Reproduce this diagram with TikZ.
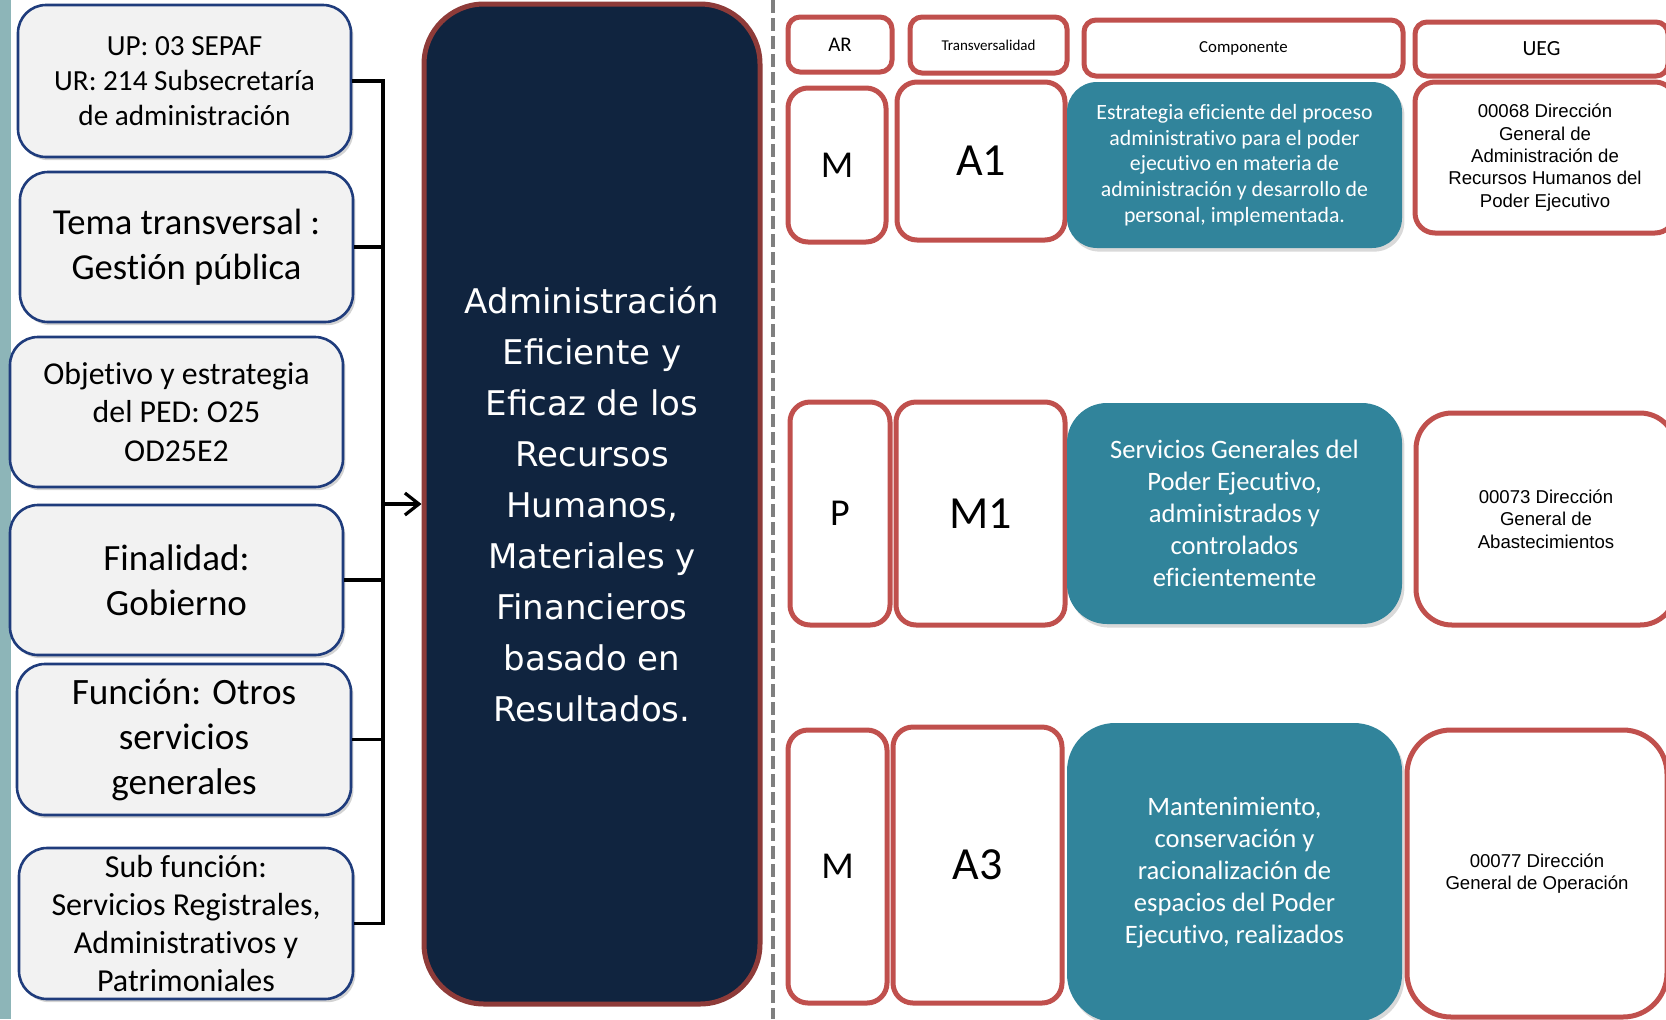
\documentclass[tikz,border=0pt]{standalone}
\usepackage{fontspec}
\setmainfont{Carlito}[Ligatures={NoCommon}]
\newfontfamily\dejavu{DejaVu Sans}
\newfontfamily\arialf{Liberation Sans}
\usetikzlibrary{shadows,arrows.meta}
\definecolor{stripc}{HTML}{8DB5B8}
\definecolor{lfill}{HTML}{F2F2F2}
\definecolor{lborder}{HTML}{1F3C7C}
\definecolor{navyc}{HTML}{10243F}
\definecolor{brownred}{HTML}{8E3B39}
\definecolor{redb}{HTML}{C0504D}
\definecolor{tealc}{HTML}{31849B}
\definecolor{dashc}{HTML}{7F7F7F}
\newcommand\fs[2]{\fontsize{#1}{#2}\selectfont}
\begin{document}
\begin{tikzpicture}[x=0.5pt,y=-0.5pt,
  lbox/.style={draw=lborder, line width=1.3pt, fill=lfill, rounded corners=14pt, align=center, inner sep=0pt,
    drop shadow={shadow xshift=1.2pt, shadow yshift=-1.6pt, opacity=0.35}},
  cbox/.style={draw=brownred, line width=2.5pt, fill=navyc, rounded corners=30pt, align=center, inner sep=0pt, text=white},
  hbox/.style={draw=redb, line width=2.5pt, fill=white, rounded corners=6pt, align=center, inner sep=0pt},
  rbox/.style={draw=redb, line width=2.5pt, fill=white, rounded corners=10pt, align=center, inner sep=0pt},
  tbox/.style={fill=tealc, rounded corners=15pt, align=center, inner sep=0pt, text=white,
    drop shadow={shadow xshift=1.2pt, shadow yshift=-1.8pt, opacity=0.3}},
  conn/.style={draw=black, line width=1.8pt},
  sepline/.style={draw=dashc, line width=2pt, dash pattern=on 6.5pt off 2.5pt}
]
\useasboundingbox (0,0) rectangle (1666,1019);
\fill[stripc] (0,0) rectangle (11,1019);

% left column
\node[lbox, minimum width=166.5pt, minimum height=76pt, font=\fs{14.6}{17.5}] (b1) at (184.5,81) {UP: 03 SEPAF\\UR: 214 Subsecretaría\\de administración};
\node[lbox, minimum width=166.5pt, minimum height=75pt, font=\fs{18.3}{22.3}] (b2) at (186.5,247) {Tema transversal :\\Gestión pública};
\node[lbox, minimum width=166.5pt, minimum height=75pt, font=\fs{15.9}{19.1}] (b3) at (176.5,412) {Objetivo y estrategia\\del PED: O25\\OD25E2};
\node[lbox, minimum width=166.5pt, minimum height=75pt, font=\fs{18.5}{22.3}] (b4) at (176.5,580) {Finalidad:\\Gobierno};
\node[lbox, minimum width=167pt, minimum height=75.5pt, font=\fs{18.6}{22.5}] (b5) at (184,739.5) {Función: Otros\\servicios\\generales};
\node[lbox, minimum width=167pt, minimum height=75.5pt, font=\fs{16}{19.1}] (b6) at (186,923.5) {Sub función:\\Servicios Registrales,\\Administrativos y\\Patrimoniales};

% central box
\node[cbox, minimum width=168pt, minimum height=500pt, font=\dejavu\fs{17}{25.5}] (c) at (592,504) {Administración\\Eficiente y\\Eficaz de los\\Recursos\\Humanos,\\Materiales y\\Financieros\\basado en\\Resultados.};

% connectors
\coordinate (bt) at (383,80);
\draw[conn] (b1.east) -- (b1.east -| bt) -- (b6.east -| bt) -- (b6.east);
\draw[conn] (b2.east) -- (b2.east -| bt);
\draw[conn] (b4.east) -- (b4.east -| bt);
\draw[conn] (b5.east) -- (b5.east -| bt);
\draw[conn, -{Straight Barb[length=7pt, width=11pt, line width=1.6pt]}] (c.west -| bt) -- (c.west);

% separator
\coordinate (s1) at (773,0);
\coordinate (s2) at (773,1019);
\draw[sepline] (s1) -- (s2);

% headers
\node[hbox, minimum width=52pt, minimum height=27.5pt, font=\fs{10.4}{12}] (hAR) at (840,44.5) {AR};
\node[hbox, minimum width=78.5pt, minimum height=28pt, font=\fs{7.5}{9}] (hTR) at (988.5,45) {Transversalidad};
\node[hbox, minimum width=159.5pt, minimum height=28pt, font=\fs{8.4}{10}] (hCO) at (1243.5,48) {Componente};
\node[hbox, minimum width=126.5pt, minimum height=27pt, font=\fs{10.8}{12}] (hUE) at (1541.5,49) {UEG};

% row 1
\node[rbox, minimum width=49pt, minimum height=77pt, font=\fs{19}{22}] (r1a) at (837,165) {M};
\node[rbox, minimum width=84pt, minimum height=79pt, font=\fs{23}{26}] (r1t) at (981,161) {A1};
\node[tbox, minimum width=167.5pt, minimum height=83pt, font=\fs{10.9}{12.9}] (r1c) at (1234.5,165) {Estrategia eficiente del proceso\\administrativo para el poder\\ejecutivo en materia de\\administración y desarrollo de\\personal, implementada.};
\node[rbox, minimum width=130pt, minimum height=75.5pt, font=\arialf\fs{9.3}{11.2}] (r1u) at (1545,157.5) {00068 Dirección\\General de\\Administración de\\Recursos Humanos del\\Poder Ejecutivo};

% row 2
\node[rbox, minimum width=50pt, minimum height=111.5pt, font=\fs{19}{22}] (r2a) at (840,513.5) {P};
\node[rbox, minimum width=84.5pt, minimum height=111.5pt, font=\fs{23}{26}] (r2t) at (980.5,513.5) {M1};
\node[tbox, rounded corners=20pt, minimum width=167.5pt, minimum height=110.5pt, font=\fs{13.3}{16}] (r2c) at (1234.5,513.5) {Servicios Generales del\\Poder Ejecutivo,\\administrados y\\controlados\\eficientemente};
\node[rbox, rounded corners=18pt, minimum width=130pt, minimum height=106pt, font=\arialf\fs{9.3}{11.2}] (r2u) at (1546,519) {00073 Dirección\\General de\\Abastecimientos};

% row 3
\node[rbox, minimum width=49.5pt, minimum height=136.5pt, font=\fs{19}{22}] (r3a) at (837.5,866.5) {M};
\node[rbox, minimum width=84.5pt, minimum height=138pt, font=\fs{23}{26}] (r3t) at (977.5,865) {A3};
\node[tbox, rounded corners=24pt, minimum width=167.5pt, minimum height=149.5pt, font=\fs{13.3}{16}] (r3c) at (1234.5,872.5) {Mantenimiento,\\conservación y\\racionalización de\\espacios del Poder\\Ejecutivo, realizados};
\node[rbox, rounded corners=22pt, minimum width=130pt, minimum height=143.5pt, font=\arialf\fs{9.3}{11.2}] (r3u) at (1537,873.5) {00077 Dirección\\General de Operación};
\end{tikzpicture}
\end{document}
